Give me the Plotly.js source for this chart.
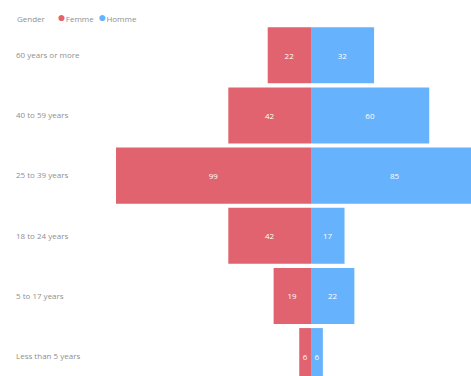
<!DOCTYPE html>
<html>
<head>
<meta charset="utf-8">
<script src="https://cdn.plot.ly/plotly-3.0.1.min.js"></script>
<style>html,body{margin:0;padding:0;background:#fff;}#chart{width:471px;height:376px;}</style>
</head>
<body>
<div id="chart"></div>
<script>
const ageGroups = ["Less than 5 years", "5 to 17 years", "18 to 24 years", "25 to 39 years", "40 to 59 years", "60 years or more"];
const femme = [6, 19, 42, 99, 42, 22];
const homme = [6, 22, 17, 85, 60, 32];
const seriesNames = ["Femme", "Homme"];
const legendTitle = "Gender";
const colors = ["#e0636f", "#66b2fd"];

const fam = "Open Sans, Roboto, sans-serif";
const textFont = {family: fam, size: 8, color: "#ffffff"};

const traces = [
  {
    type: "bar", orientation: "h", name: seriesNames[0],
    y: ageGroups, x: femme.map(v => -v), text: femme.map(String),
    textposition: "inside", insidetextanchor: "middle", textangle: 0,
    constraintext: "none", insidetextfont: textFont,
    marker: {color: colors[0]}, showlegend: false
  },
  {
    type: "bar", orientation: "h", name: seriesNames[1],
    y: ageGroups, x: homme, text: homme.map(String),
    textposition: "inside", insidetextanchor: "middle", textangle: 0,
    constraintext: "none", insidetextfont: textFont,
    marker: {color: colors[1]}, showlegend: false
  }
];

const legendText = legendTitle + "&nbsp;&nbsp;&nbsp;&nbsp;&nbsp;&nbsp;" +
  seriesNames.map((n, i) => '<span style="color:' + colors[i] + ';font-size:14px">●</span>' + n).join("&nbsp;&nbsp;");

const layout = {
  width: 471, height: 376,
  margin: {l: 13, r: 0, t: 27, b: 0, pad: 0, autoexpand: false},
  paper_bgcolor: "#ffffff", plot_bgcolor: "#ffffff",
  barmode: "relative", bargap: 0.067,
  font: {family: fam, size: 8, color: "#8f8f8f"},
  showlegend: false,
  xaxis: {range: [-151.3, 81.2], showgrid: false, zeroline: false, showticklabels: false,
          showline: false, fixedrange: true},
  yaxis: {type: "category", categoryarray: ageGroups, categoryorder: "array",
          range: [-0.33, 5.47], showgrid: false, zeroline: false, showline: false,
          ticklabelposition: "inside", ticks: "",
          tickfont: {family: fam, size: 8, color: "#8f8f8f"}},
  annotations: [{
    xref: "paper", yref: "paper", x: 0, xanchor: "left", y: 1, yanchor: "bottom",
    yshift: -1, xshift: 2, showarrow: false, align: "left",
    text: legendText, font: {family: fam, size: 8, color: "#8f8f8f"}
  }]
};

Plotly.newPlot("chart", traces, layout, {displayModeBar: false, staticPlot: true});
</script>
</body>
</html>
